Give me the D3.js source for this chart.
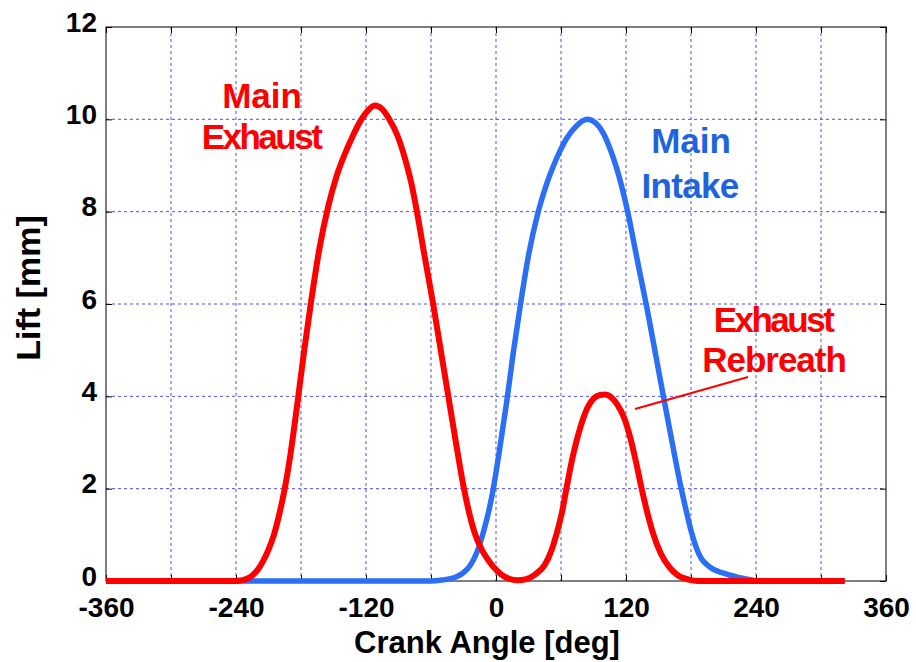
<!DOCTYPE html>
<html>
<head>
<meta charset="utf-8">
<script src="https://cdn.jsdelivr.net/npm/d3@7"></script>
<style>
  body { margin: 0; background: #fff; }
  svg text { font-family: "Liberation Sans", Arial, sans-serif; font-weight: bold; }
</style>
</head>
<body>
<svg id="chart" width="916" height="662"></svg>
<script>
// crank angle [deg], lift [mm]
const mainExhaust = [
  [-360, 0], [-240, 0], [-236, 0.01], [-232, 0.03], [-226, 0.1], [-220, 0.24], [-215, 0.43],
  [-210, 0.68], [-205, 1.0], [-200, 1.45], [-195, 2.0], [-190, 2.7], [-185, 3.55],
  [-182.5, 4.0], [-177, 5.0], [-171, 6.0], [-163, 7.2], [-155, 8.1], [-147, 8.78],
  [-139, 9.28], [-132, 9.65], [-125.5, 9.95], [-119, 10.17], [-112, 10.3], [-105, 10.22],
  [-98.5, 10.0], [-91, 9.65], [-84, 9.15], [-78, 8.6], [-73, 8.0], [-66, 7.05], [-58, 6.0],
  [-51, 5.0], [-44, 4.0], [-37, 3.0], [-30, 2.05], [-25, 1.5], [-19.5, 1.03], [-14, 0.72],
  [-8.6, 0.5], [-2.5, 0.31], [5, 0.14], [12, 0.05], [20, 0.015]
];
const rebreath = [
  [28, 0.04], [36, 0.14], [45, 0.35], [51, 0.65], [56, 1.03], [61, 1.5], [65, 2.0],
  [70, 2.6], [77.5, 3.3], [84, 3.73], [90, 3.95], [96, 4.03], [101, 4.04], [106, 3.99],
  [112, 3.82], [118, 3.55], [124, 3.1], [129, 2.6], [134, 2.05], [140, 1.45], [145, 1.03],
  [152, 0.6], [160, 0.3], [168, 0.12], [178, 0.03], [186, 0], [322, 0]
];
const mainIntake = [
  [-360, 0], [-60, 0], [-50, 0.02], [-42, 0.05], [-36, 0.1], [-30, 0.18], [-24, 0.33],
  [-18, 0.6], [-12, 1.03], [-7, 1.48], [-2.5, 2.0], [3, 2.8], [10, 3.9], [16, 4.95],
  [22, 5.9], [30, 7.05], [39, 8.0], [46, 8.55], [53, 8.99], [59, 9.31], [65, 9.58],
  [74, 9.85], [84, 10.0], [92, 9.92], [99, 9.7], [105, 9.38], [111, 8.97], [116, 8.55],
  [122, 7.95], [130, 7.0], [139, 5.95], [147, 4.95], [154.5, 4.0], [163, 2.95], [171, 2.0],
  [176, 1.48], [180.5, 1.05], [188, 0.55], [197.5, 0.3], [210, 0.17], [222, 0.09],
  [232, 0.04], [240, 0]
];

const xTicks = [-360, -300, -240, -180, -120, -60, 0, 60, 120, 180, 240, 300, 360];
const xLabels = [-360, -240, -120, 0, 120, 240, 360];
const yTicks = [0, 2, 4, 6, 8, 10, 12];

const svg = d3.select('#chart');
const pLeft = 106, pRight = 886, pTop = 27, pBottom = 581;
const w = pRight - pLeft, h = pBottom - pTop;

const x = d3.scaleLinear().domain([-360, 360]).range([pLeft, pRight]);
const y = d3.scaleLinear().domain([0, 12]).range([pBottom, pTop]);

// grid
const grid = svg.append('g').attr('stroke', '#5050e0').attr('stroke-width', 1)
  .attr('stroke-dasharray', '3,3');
grid.selectAll('.vx').data(xTicks.slice(1, -1)).join('line')
  .attr('x1', d => x(d)).attr('x2', d => x(d)).attr('y1', pTop).attr('y2', pBottom);
grid.selectAll('.hy').data(yTicks.slice(1, -1)).join('line')
  .attr('y1', d => y(d)).attr('y2', d => y(d)).attr('x1', pLeft).attr('x2', pRight);

// axes
const fmtX = d => xLabels.includes(d) ? d : '';
const xAxis = svg.append('g').attr('transform', `translate(0,${pBottom})`)
  .call(d3.axisBottom(x).tickValues(xTicks).tickSize(-6).tickPadding(16).tickFormat(fmtX));
const yAxis = svg.append('g').attr('transform', `translate(${pLeft},0)`)
  .call(d3.axisLeft(y).tickValues(yTicks).tickSize(-6).tickPadding(9));
svg.append('g').attr('transform', `translate(0,${pTop})`)
  .call(d3.axisTop(x).tickValues(xTicks).tickSize(-6).tickFormat(''));
svg.append('g').attr('transform', `translate(${pRight},0)`)
  .call(d3.axisRight(y).tickValues(yTicks).tickSize(-6).tickFormat(''));

svg.selectAll('.domain').remove();
svg.selectAll('.tick line').attr('stroke', '#000');
[xAxis, yAxis].forEach(a => a.selectAll('text')
  .style('font-size', '28px').style('font-family', '"Liberation Sans", Arial, sans-serif')
  .style('font-weight', 'bold').attr('fill', '#000'));
yAxis.selectAll('text').attr('dy', '0.15em');

svg.append('rect').attr('x', pLeft).attr('y', pTop).attr('width', w).attr('height', h)
  .attr('fill', 'none').attr('stroke', '#000').attr('stroke-width', 1);

// curves
const line = d3.line().x(d => x(d[0])).y(d => y(d[1])).curve(d3.curveMonotoneX);
svg.append('path').attr('d', line(mainIntake))
  .attr('fill', 'none').attr('stroke', '#2a6ff5').attr('stroke-width', 5.5)
  .attr('stroke-linejoin', 'round');
svg.append('path').attr('d', line(mainExhaust.concat(rebreath)))
  .attr('fill', 'none').attr('stroke', '#ff0000').attr('stroke-width', 6)
  .attr('stroke-linejoin', 'round');

// axis titles
svg.append('text').attr('x', 487).attr('y', 653).attr('text-anchor', 'middle')
  .style('font-size', '31px').text('Crank Angle [deg]');
svg.append('text').attr('transform', 'translate(40,288) rotate(-90)')
  .attr('text-anchor', 'middle').style('font-size', '34px').text('Lift [mm]');

// annotations
function label(lines, color) {
  lines.forEach(l => {
    svg.append('text').attr('x', l[0]).attr('y', l[1]).attr('text-anchor', 'middle')
      .attr('fill', color).style('font-size', '35px').style('letter-spacing', l[3] + 'px')
      .text(l[2]);
  });
}
label([[262, 108, 'Main', 0], [261, 149, 'Exhaust', -2.5]], '#ff0000');
label([[691, 153, 'Main', 0], [690, 198, 'Intake', -0.7]], '#1f64dc');
label([[773, 332, 'Exhaust', -2.5], [774, 372, 'Rebreath', -1]], '#ff0000');
svg.append('line').attr('x1', 635).attr('y1', 409).attr('x2', 748).attr('y2', 377)
  .attr('stroke', '#ff0000').attr('stroke-width', 2);
</script>
</body>
</html>
